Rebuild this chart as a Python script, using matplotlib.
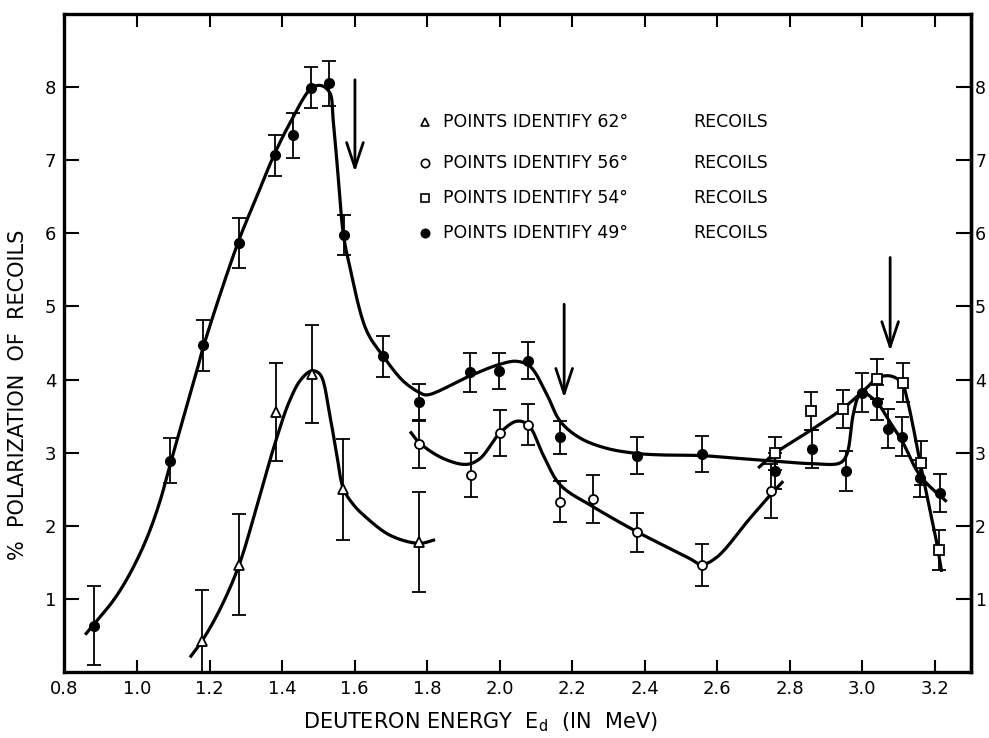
import numpy as np
import matplotlib
matplotlib.use('Agg')
import matplotlib.pyplot as plt

plt.rcParams['font.family'] = ['DejaVu Sans']

# ---- measured points (read off the scan) ----
# 49 deg recoils (filled circles)
x49 = [0.882, 1.091, 1.181, 1.280, 1.381, 1.431, 1.480, 1.529, 1.570, 1.679, 1.778, 1.918, 1.999,
       2.077, 2.167, 2.378, 2.557, 2.759, 2.861, 2.954, 2.999, 3.040, 3.070, 3.110, 3.159, 3.214]
y49 = [0.63, 2.89, 4.47, 5.87, 7.07, 7.34, 7.99, 8.05, 5.98, 4.32, 3.69, 4.10, 4.12,
       4.26, 3.21, 2.96, 2.98, 2.75, 3.05, 2.75, 3.82, 3.69, 3.33, 3.22, 2.65, 2.45]
e49 = [0.54, 0.31, 0.35, 0.34, 0.28, 0.31, 0.28, 0.31, 0.27, 0.28, 0.25, 0.27, 0.25,
       0.25, 0.23, 0.25, 0.25, 0.25, 0.26, 0.27, 0.27, 0.24, 0.27, 0.27, 0.25, 0.26]

# 56 deg recoils (open circles)
x56 = [1.778, 1.920, 2.001, 2.079, 2.167, 2.258, 2.378, 2.559, 2.748]
y56 = [3.12, 2.70, 3.27, 3.38, 2.33, 2.37, 1.91, 1.46, 2.47]
e56 = [0.33, 0.30, 0.32, 0.28, 0.28, 0.33, 0.27, 0.29, 0.37]

# 54 deg recoils (open squares)
x54 = [2.759, 2.860, 2.948, 3.042, 3.112, 3.162, 3.212]
y54 = [2.99, 3.57, 3.60, 4.01, 3.96, 2.86, 1.67]
e54 = [0.23, 0.26, 0.26, 0.27, 0.26, 0.30, 0.27]

# 62 deg recoils (open triangles)
x62 = [1.180, 1.282, 1.382, 1.482, 1.569, 1.778]
y62 = [0.43, 1.47, 3.56, 4.08, 2.50, 1.78]
e62 = [0.69, 0.69, 0.67, 0.67, 0.69, 0.68]

# ---- hand drawn curves ----
c49_x = [0.857, 0.879, 0.935, 0.981, 1.027, 1.063, 1.091, 1.128, 1.165, 1.183, 1.279, 1.330,
         1.376, 1.422, 1.482, 1.509, 1.532, 1.541, 1.555, 1.569, 1.587, 1.633, 1.679, 1.734,
         1.780, 1.800, 1.918, 2.001, 2.047, 2.084, 2.130, 2.167, 2.222, 2.295, 2.378, 2.442,
         2.557, 2.663, 2.746, 2.861, 2.939, 2.957, 2.975, 2.989, 2.999, 3.040, 3.075, 3.113,
         3.150, 3.178, 3.233]
c49_y = [0.51, 0.64, 0.98, 1.35, 1.83, 2.33, 2.83, 3.48, 4.12, 4.45, 5.88, 6.50,
         7.05, 7.51, 7.99, 8.02, 7.92, 7.55, 6.77, 5.99, 5.54, 4.67, 4.32, 3.98,
         3.82, 3.79, 4.05, 4.21, 4.25, 4.18, 3.80, 3.43, 3.20, 3.06, 2.99, 2.97,
         2.96, 2.92, 2.89, 2.85, 2.86, 2.97, 3.52, 3.77, 3.83, 3.69, 3.43, 3.13,
         2.76, 2.58, 2.33]

c56_x = [1.753, 1.780, 1.845, 1.909, 1.946, 2.001, 2.047, 2.079, 2.120, 2.167, 2.258, 2.378,
         2.433, 2.525, 2.557, 2.599, 2.690, 2.750, 2.782]
c56_y = [3.29, 3.13, 2.92, 2.84, 2.92, 3.27, 3.43, 3.38, 2.97, 2.56, 2.26, 1.92,
         1.78, 1.55, 1.47, 1.57, 2.10, 2.44, 2.61]

c54_x = [2.713, 2.759, 2.859, 2.948, 3.017, 3.040, 3.077, 3.109, 3.123, 3.141, 3.159, 3.182,
         3.205, 3.219]
c54_y = [2.79, 2.99, 3.31, 3.61, 3.91, 4.02, 4.05, 3.96, 3.75, 3.34, 2.88, 2.33,
         1.78, 1.37]

c62_x = [1.146, 1.180, 1.229, 1.282, 1.339, 1.382, 1.420, 1.452, 1.482, 1.505, 1.532, 1.551,
         1.569, 1.595, 1.624, 1.698, 1.778, 1.822]
c62_y = [0.20, 0.43, 0.86, 1.47, 2.42, 3.15, 3.70, 4.00, 4.12, 4.07, 3.50, 2.97,
         2.51, 2.30, 2.15, 1.87, 1.76, 1.81]

# resonance arrows: x, tail y, head y
arrows = [(1.601, 8.10, 6.84), (2.178, 5.03, 3.75), (3.077, 5.67, 4.39)]

legend_rows = [('^', 'none', 'POINTS IDENTIFY 62°', 7.52),
               ('o', 'none', 'POINTS IDENTIFY 56°', 6.96),
               ('s', 'none', 'POINTS IDENTIFY 54°', 6.49),
               ('o', 'black', 'POINTS IDENTIFY 49°', 6.00)]

xticks = [0.8, 1.0, 1.2, 1.4, 1.6, 1.8, 2.0, 2.2, 2.4, 2.6, 2.8, 3.0, 3.2]
yticks = [1, 2, 3, 4, 5, 6, 7, 8]


def smooth(xs, ys, n=16, k=0.2):
    # centripetal catmull-rom through the read points, just to draw them as a smooth pen line
    p = np.column_stack([xs, np.asarray(ys) * k])
    p = np.vstack([2 * p[0] - p[1], p, 2 * p[-1] - p[-2]])
    out = []
    for i in range(1, len(p) - 2):
        p0, p1, p2, p3 = p[i - 1], p[i], p[i + 1], p[i + 2]
        t0 = 0.0
        t1 = t0 + np.linalg.norm(p1 - p0) ** 0.5
        t2 = t1 + np.linalg.norm(p2 - p1) ** 0.5
        t3 = t2 + np.linalg.norm(p3 - p2) ** 0.5
        t = np.linspace(t1, t2, n)[:, None]
        a1 = (t1 - t) / (t1 - t0) * p0 + (t - t0) / (t1 - t0) * p1
        a2 = (t2 - t) / (t2 - t1) * p1 + (t - t1) / (t2 - t1) * p2
        a3 = (t3 - t) / (t3 - t2) * p2 + (t - t2) / (t3 - t2) * p3
        b1 = (t2 - t) / (t2 - t0) * a1 + (t - t0) / (t2 - t0) * a2
        b2 = (t3 - t) / (t3 - t1) * a2 + (t - t1) / (t3 - t1) * a3
        c = (t2 - t) / (t2 - t1) * b1 + (t - t1) / (t2 - t1) * b2
        out.append(c)
    out = np.vstack(out)
    return out[:, 0], out[:, 1] / k


fig = plt.figure(figsize=(9.89, 7.38), dpi=100)
ax = fig.add_axes([0.0652, 0.0894, 0.9166, 0.8916])

# curves
for cx, cy in [(c49_x, c49_y), (c56_x, c56_y), (c54_x, c54_y), (c62_x, c62_y)]:
    sx, sy = smooth(cx, cy)
    ax.plot(sx, sy, color='black', lw=2.3, solid_capstyle='butt', zorder=2)

eb = dict(ecolor='black', elinewidth=1.3, capsize=5, capthick=1.3, linestyle='none', zorder=3)
ax.errorbar(x62, y62, yerr=e62, fmt='^', ms=7, mfc='white', mec='black', mew=1.3, **eb)
ax.errorbar(x56, y56, yerr=e56, fmt='o', ms=6.5, mfc='white', mec='black', mew=1.3, **eb)
ax.errorbar(x54, y54, yerr=e54, fmt='s', ms=7, mfc='white', mec='black', mew=1.3, **eb)
ax.errorbar(x49, y49, yerr=e49, fmt='o', ms=7, mfc='black', mec='black', **eb)

for xa, ytail, yhead in arrows:
    ax.annotate('', xy=(xa, yhead), xytext=(xa, ytail),
                arrowprops=dict(arrowstyle='->,head_length=1.2,head_width=0.4',
                                color='black', lw=2.0, mutation_scale=15, shrinkA=0, shrinkB=0))

# legend block written as on the original
for marker, face, label, yrow in legend_rows:
    ax.plot([1.794], [yrow], marker=marker, ms=6, mfc=face, mec='black', mew=1.2,
            linestyle='none', clip_on=False)
    ax.text(1.844, yrow, label, fontsize=12.5, va='center', ha='left')
    ax.text(2.533, yrow, 'RECOILS', fontsize=12.5, va='center', ha='left')

ax.set_xlim(0.8, 3.3)
ax.set_ylim(0, 9)
ax.set_xticks(xticks)
ax.set_xticklabels([f'{v:.1f}' for v in xticks])
ax.set_yticks(yticks)
ax.set_yticklabels([str(v) for v in yticks])

ax.tick_params(axis='both', direction='in', width=1.5, labelsize=13, top=True, right=True)
ax.tick_params(axis='x', length=9, pad=6)
ax.tick_params(axis='y', length=11, pad=6)

# right hand scale repeats the left one, labels tight to the frame
sec = ax.secondary_yaxis('right')
sec.set_yticks(yticks)
sec.set_yticklabels([str(v) for v in yticks])
sec.tick_params(direction='in', length=0, pad=3, labelsize=12.5)
sec.spines['right'].set_linewidth(2.4)

for s in ax.spines.values():
    s.set_linewidth(2.4)

fig.text(0.486, 0.021, 'DEUTERON ENERGY  E$_\\mathregular{d}$  (IN  MeV)', fontsize=15,
         ha='center', va='center')
fig.text(0.018, 0.465, '%  POLARIZATION  OF  RECOILS', fontsize=15, rotation=90,
         ha='center', va='center')

fig.savefig('out.png', dpi=100)
